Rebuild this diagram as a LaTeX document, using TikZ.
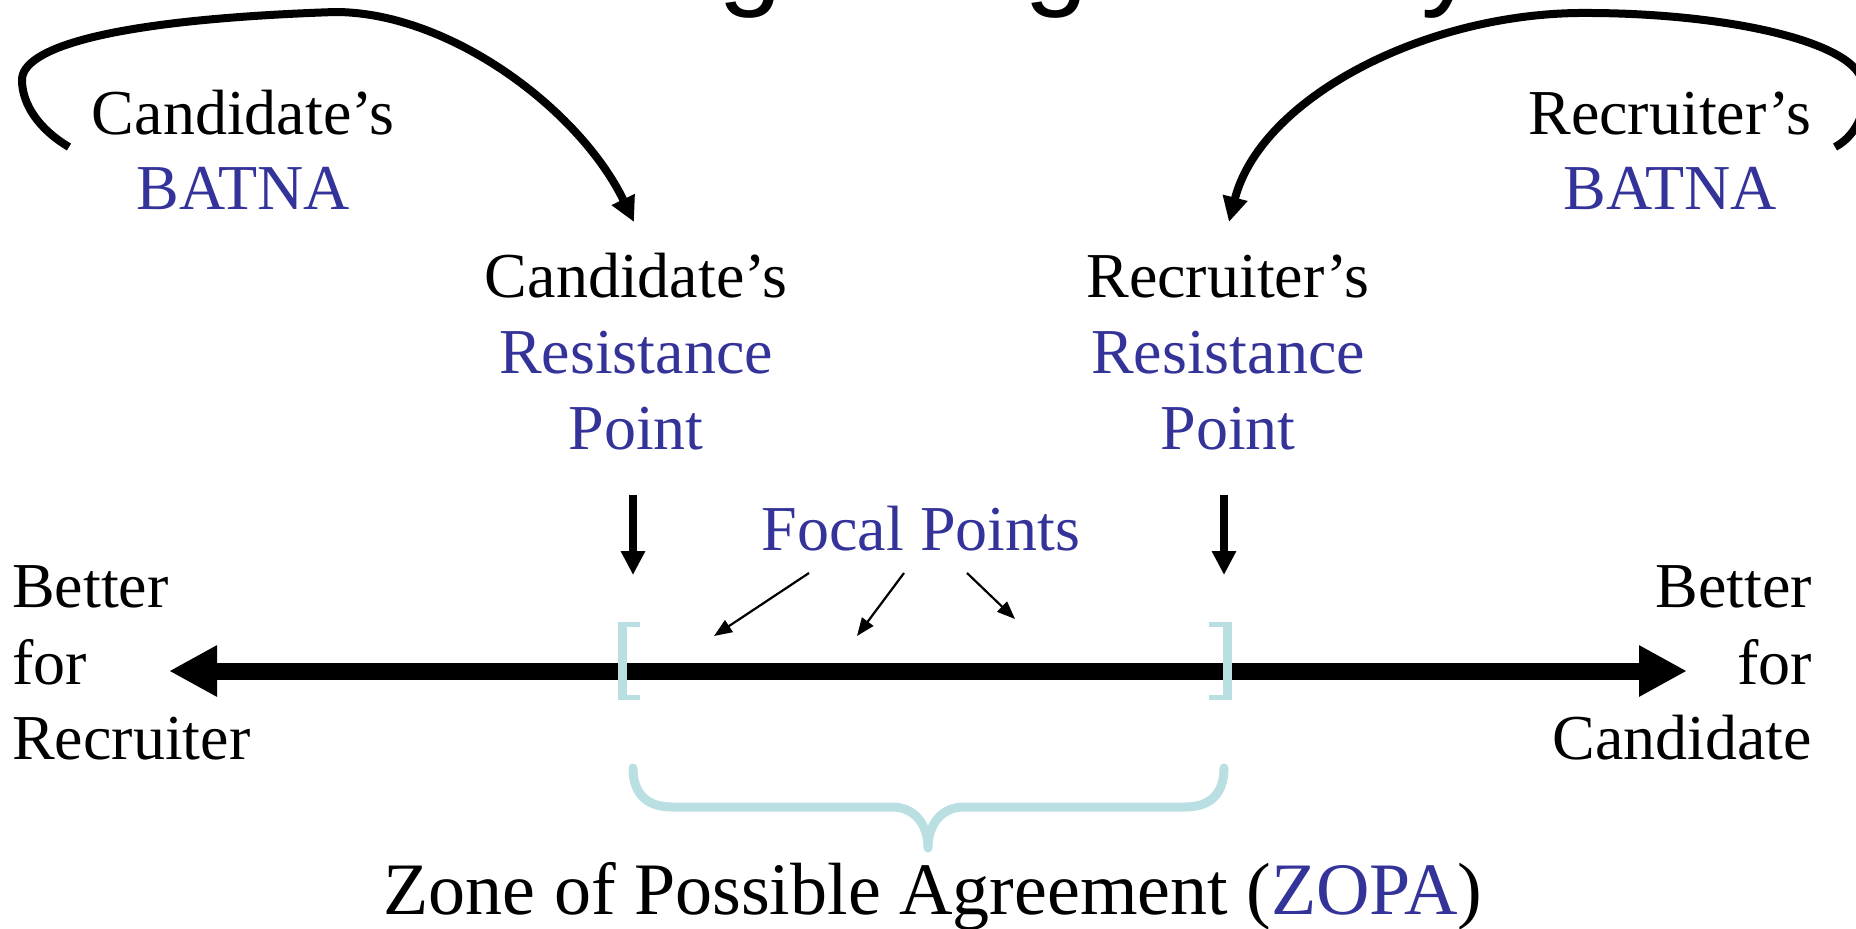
\documentclass[tikz,border=0pt]{standalone}
\usepackage{fontspec}
\setmainfont{Liberation Serif}
\newfontfamily\titlefont{Liberation Sans}
\usetikzlibrary{arrows.meta}
\definecolor{batblue}{HTML}{333399}
\definecolor{zopateal}{HTML}{B9DFE3}
\tikzset{
  lbl/.style={font=\fontsize{64}{76}\selectfont, inner sep=0pt, anchor=base},
  lblw/.style={lbl, anchor=base west},
  lble/.style={lbl, anchor=base east},
  blue/.style={text=batblue},
  bigcurve/.style={line width=8pt, -{Triangle[length=25pt,width=24pt]}},
  downarrow/.style={line width=8pt, -{Triangle[length=24pt,width=23pt]}},
  focarrow/.style={line width=2.2pt, -{Triangle[length=18pt,width=14pt]}},
  mainline/.style={line width=17pt, {Triangle[length=48pt,width=48pt]}-{Triangle[length=48pt,width=48pt]}},
  teal/.style={fill=zopateal, draw=none},
  brace/.style={draw=zopateal, line width=9pt, line cap=round, line join=round}
}
\begin{document}
\begin{tikzpicture}[x=1pt,y=-1pt]
\useasboundingbox (0,0) rectangle (1856,929);
\clip (0,0) rectangle (1856,929);
% cut-off title (only its descenders show, as in the reference)
\node[inner sep=0pt, anchor=base west, font=\titlefont\fontsize{115}{120}\selectfont] (title) at (539,-6) {Bargaining Theory};
% BATNA labels
\node[lbl] (cbat1) at (243,134) {Candidate’s};
\node[lbl, blue] (cbat2) at (243,209) {BATNA};
\node[lbl] (rbat1) at (1670,134) {Recruiter’s};
\node[lbl, blue] (rbat2) at (1670,209) {BATNA};
% resistance points
\node[lbl] (cres1) at (636,297) {Candidate’s};
\node[lbl, blue] (cres2) at (636,373) {Resistance};
\node[lbl, blue] (cres3) at (636,449) {Point};
\node[lbl] (rres1) at (1228,297) {Recruiter’s};
\node[lbl, blue] (rres2) at (1228,373) {Resistance};
\node[lbl, blue] (rres3) at (1228,449) {Point};
% focal points
\node[lbl, blue] (focal) at (921,550) {Focal Points};
% sides
\node[lblw] (bl1) at (12,607) {Better};
\node[lblw] (bl2) at (12,684) {for};
\node[lblw] (bl3) at (12,759) {Recruiter};
\node[lble] (br1) at (1812,607) {Better};
\node[lble] (br2) at (1812,684) {for};
\node[lble] (br3) at (1812,759) {Candidate};
% ZOPA text
\node[inner sep=0pt, anchor=base, font=\fontsize{74}{80}\selectfont] (zopa) at (933,914) {Zone of Possible Agreement (\textcolor{batblue}{ZOPA})};
% coordinates
\coordinate (cstart) at (69,147);
\coordinate (ctip) at (634,222);
\coordinate (rstart) at (1835,147);
\coordinate (rtip) at (1229,222);
\coordinate (cdtop) at (633,495);
\coordinate (cdtip) at (633,575);
\coordinate (rdtop) at (1224,495);
\coordinate (rdtip) at (1224,575);
\coordinate (f1s) at (809,573);
\coordinate (f1e) at (714,636);
\coordinate (f2s) at (904,573);
\coordinate (f2e) at (857,636);
\coordinate (f3s) at (967,573);
\coordinate (f3e) at (1015,619);
\coordinate (lineL) at (169,671);
\coordinate (lineR) at (1687,671);
% curved arrows from BATNA
\draw[bigcurve] (cstart) .. controls (40,130) and (22,105) .. (22,80)
  .. controls (22,50) and (100,20) .. (335,12)
  .. controls (450,12) and (580,110) .. (ctip);
\draw[bigcurve] (rstart) .. controls (1858,135) and (1870,105) .. (1862,80)
  .. controls (1850,40) and (1720,12) .. (1578,13)
  .. controls (1420,15) and (1260,100) .. (rtip);
% down arrows
\draw[downarrow] (cdtop) -- (cdtip);
\draw[downarrow] (rdtop) -- (rdtip);
% focal arrows
\draw[focarrow] (f1s) -- (f1e);
\draw[focarrow] (f2s) -- (f2e);
\draw[focarrow] (f3s) -- (f3e);
% main line
\draw[mainline] (lineL) -- (lineR);
% brackets
\fill[teal] (618,622) rectangle (627,700);
\fill[teal] (618,622) rectangle (640,627);
\fill[teal] (618,695) rectangle (640,700);
\fill[teal] (1223,622) rectangle (1232,700);
\fill[teal] (1209,622) rectangle (1232,627);
\fill[teal] (1209,695) rectangle (1232,700);
% brace
\draw[brace] (633,768) .. controls (633,795) and (648,807) .. (672,807)
  -- (892,807) .. controls (915,807) and (928,825) .. (928,848)
  .. controls (928,825) and (941,807) .. (964,807)
  -- (1185,807) .. controls (1209,807) and (1224,795) .. (1224,768);
\end{tikzpicture}
\end{document}
